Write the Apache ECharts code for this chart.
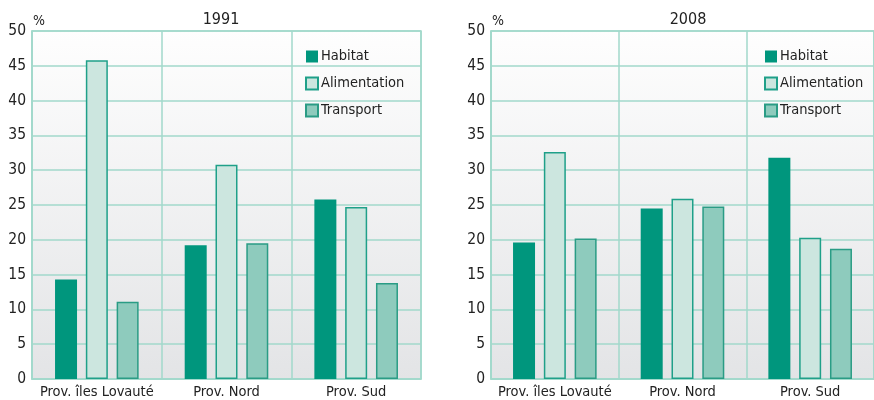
<!DOCTYPE html>
<html><head><meta charset="utf-8">
<script src="https://cdn.jsdelivr.net/npm/echarts@6/dist/echarts.min.js"></script>
<style>html,body{margin:0;padding:0;background:#fff}#c{width:874px;height:400px}</style>
</head><body><div id="c"></div>
<script>
const categories = ['Prov. îles Lovauté', 'Prov. Nord', 'Prov. Sud'];
const seriesNames = ['Habitat', 'Alimentation', 'Transport'];
const years = ['1991', '2008'];
const habitat1991 = [14.3, 19.2, 25.8];
const alimentation1991 = [45.8, 30.8, 24.7];
const transport1991 = [11.1, 19.5, 13.8];
const habitat2008 = [19.6, 24.5, 31.8];
const alimentation2008 = [32.6, 25.9, 20.3];
const transport2008 = [20.2, 24.8, 18.7];
const yTicks = [0, 50, 5];

const FONT = "'DejaVu Sans Condensed', 'DejaVu Sans', sans-serif";
const GRID = '#a2d9cb';
const styles = [
  {color: '#00967d', borderColor: '#00967d', borderWidth: 0},
  {color: '#cce6df', borderColor: '#1fa089', borderWidth: 1.5},
  {color: '#8ecbbd', borderColor: '#2a9c85', borderWidth: 1.5}
];
const bg = new echarts.graphic.LinearGradient(0, 0, 0, 1, [
  {offset: 0, color: '#fefefe'}, {offset: 1, color: '#e3e4e6'}
]);
const lefts = [32, 491];
const titleX = [221, 688];
const data = [[habitat1991, alimentation1991, transport1991], [habitat2008, alimentation2008, transport2008]];

const grids = [], xAxes = [], yAxes = [], series = [], legends = [], graphics = [];
lefts.forEach((l, i) => {
  grids.push({left: l, top: 31, width: 389, height: 348, show: true, backgroundColor: bg, borderColor: GRID, borderWidth: 1.5, containLabel: false});
  xAxes.push({type: 'category', gridIndex: i, data: categories,
    axisLine: {lineStyle: {color: GRID, width: 1.5}}, axisTick: {show: false},
    splitLine: {show: true, interval: 0, lineStyle: {color: GRID, width: 1.5}},
    axisLabel: {color: '#222', fontSize: 14.5, fontFamily: FONT, margin: 6, interval: 0}});
  yAxes.push({type: 'value', gridIndex: i, min: yTicks[0], max: yTicks[1], interval: yTicks[2],
    name: '%', nameLocation: 'end', nameGap: 3,
    nameTextStyle: {color: '#222', fontSize: 14, fontFamily: FONT, align: 'left', padding: [0, 0, 0, 1]},
    axisLine: {show: true, lineStyle: {color: GRID, width: 1.5}}, axisTick: {show: false},
    splitLine: {show: true, lineStyle: {color: GRID, width: 1.5}},
    axisLabel: {color: '#222', fontSize: 15.5, fontFamily: FONT, margin: 6}});
  seriesNames.forEach((n, k) => {
    series.push({type: 'bar', name: n, xAxisIndex: i, yAxisIndex: i, data: data[i][k],
      barWidth: 22, barGap: '40%', itemStyle: styles[k], emphasis: {disabled: true}});
  });
  legends.push({left: l + 273, top: 49, padding: 0, orient: 'vertical', itemWidth: 12, itemHeight: 12, itemGap: 12,
    data: seriesNames, icon: 'rect', selectedMode: false,
    textStyle: {color: '#222', fontSize: 14.5, fontFamily: FONT, padding: [0, 0, 0, -2]}});
  graphics.push({type: 'text', x: titleX[i], y: 12, style: {text: years[i], fill: '#222', fontSize: 16, fontFamily: FONT, textAlign: 'center'}});
});

const chart = echarts.init(document.getElementById('c'), null, {renderer: 'canvas'});
chart.setOption({animation: false, grid: grids, xAxis: xAxes, yAxis: yAxes, series: series, legend: legends, graphic: graphics});
</script></body></html>
